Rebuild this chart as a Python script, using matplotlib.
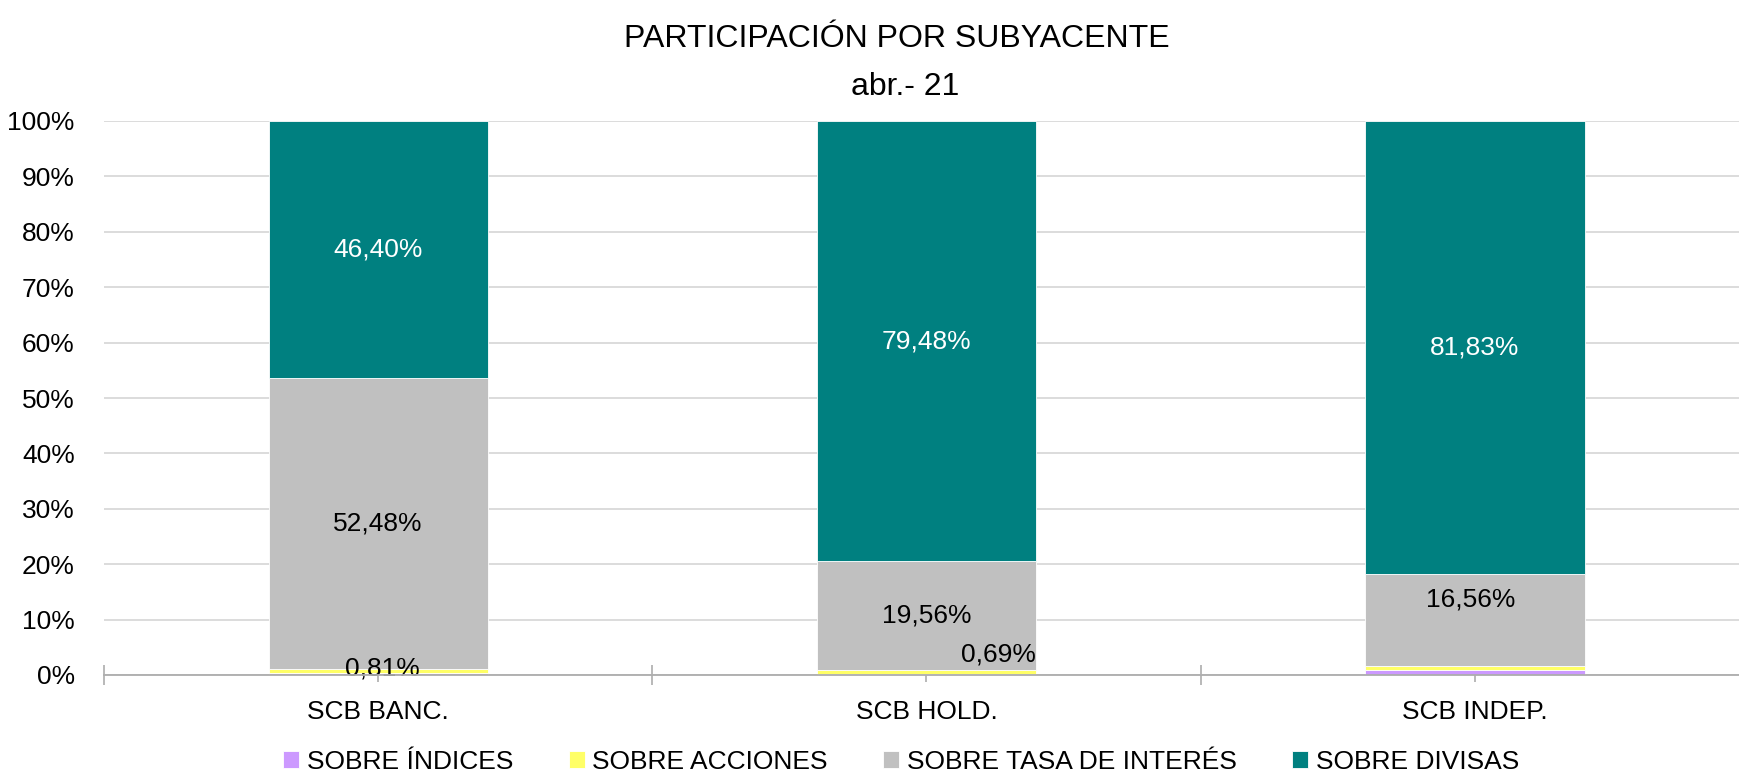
# Participación por subyacente - stacked 100% bars per SCB type
import numpy as np
import matplotlib
matplotlib.use('Agg')
import matplotlib.pyplot as plt
from matplotlib import font_manager

# Data (in %)
categories = ['SCB BANC.', 'SCB HOLD.', 'SCB INDEP.']
series_names = ['SOBRE ÍNDICES', 'SOBRE ACCIONES', 'SOBRE TASA DE INTERÉS', 'SOBRE DIVISAS']
indices = [0.31, 0.27, 0.96]
acciones = [0.81, 0.69, 0.65]
tasa_interes = [52.48, 19.56, 16.56]
divisas = [46.40, 79.48, 81.83]
y_ticks = [0, 10, 20, 30, 40, 50, 60, 70, 80, 90, 100]

colors = ['#CC99FF', '#FFFF66', '#C0C0C0', '#008080']
label_colors = ['black', 'black', 'black', 'white']

# which data labels are shown: (series, category, dx pts, dy pts)
shown_labels = [
    (1, 0, 3, 1.5), (2, 0, 0, 0), (3, 0, 0, 0),
    (1, 1, 52, 12), (2, 1, 0, 0), (3, 1, 0, 0),
    (2, 2, -3, 15), (3, 2, 0, 0),
]


def has_font(name):
    try:
        font_manager.findfont(font_manager.FontProperties(family=name), fallback_to_default=False)
        return True
    except ValueError:
        return False


# the original uses Arial Narrow; fall back to a regular sans at a smaller size
if has_font('Liberation Sans Narrow'):
    plt.rcParams['font.family'] = ['Liberation Sans Narrow', 'DejaVu Sans']
    fs, fs_title = 22.5, 26.5
else:
    plt.rcParams['font.family'] = ['Liberation Sans', 'DejaVu Sans']
    fs, fs_title = 19, 23

fig = plt.figure(figsize=(17.4, 7.75), dpi=100)
ax = fig.add_axes([104 / 1740, 100 / 775, 1645 / 1740, 554 / 775])

x = np.arange(len(categories))
all_series = [indices, acciones, tasa_interes, divisas]
bottoms = np.zeros(len(categories))
seg_bottoms = []
for name, vals, col in zip(series_names, all_series, colors):
    ax.bar(x, vals, 0.4, bottom=bottoms, color=col, edgecolor='white',
           linewidth=0.6, label=name, zorder=3)
    seg_bottoms.append(bottoms.copy())
    bottoms = bottoms + np.array(vals)

# data labels
for s, c, dx, dy in shown_labels:
    v = all_series[s][c]
    ax.annotate(f'{v:.2f}%'.replace('.', ','), xy=(x[c], seg_bottoms[s][c] + v / 2),
                xytext=(dx, dy), textcoords='offset points', ha='center', va='center',
                fontsize=fs, color=label_colors[s], zorder=4)

# axes styling
ax.set_xlim(-0.5, 2.5)
ax.set_ylim(0, 100)
ax.set_yticks(y_ticks)
ax.set_yticklabels([f'{t}%' for t in y_ticks], fontsize=fs)
ax.yaxis.grid(True, color='#D9D9D9', linewidth=1.3)
ax.set_axisbelow(True)
ax.tick_params(axis='y', length=0, pad=21)

ax.set_xticks(x)
ax.set_xticklabels(categories, fontsize=fs)
ax.set_xticks([-0.5, 0.5, 1.5, 2.5], minor=True)
ax.tick_params(axis='x', which='major', direction='inout', length=10, width=1.2,
               color='#ADADAD', pad=13)
ax.tick_params(axis='x', which='minor', direction='inout', length=13.7, width=1.2,
               color='#ADADAD')

for side in ['top', 'right', 'left']:
    ax.spines[side].set_visible(False)
ax.spines['bottom'].set_color('#ADADAD')
ax.spines['bottom'].set_linewidth(1.3)
ax.spines['bottom'].set_zorder(5)

# title (two lines, placed by baseline)
fig.text(0.5155, 1 - 47 / 775, 'PARTICIPACIÓN POR SUBYACENTE', ha='center', va='baseline', fontsize=fs_title)
fig.text(0.520, 1 - 95 / 775, 'abr.- 21', ha='center', va='baseline', fontsize=fs_title)

# legend
fig.legend(loc='center', bbox_to_anchor=(0.518, 13 / 775), ncol=4, frameon=False,
           fontsize=fs, handlelength=0.6, handleheight=0.6, handletextpad=0.3,
           columnspacing=2.1, borderpad=0, borderaxespad=0)

fig.savefig('out.png', dpi=100)
plt.close(fig)
